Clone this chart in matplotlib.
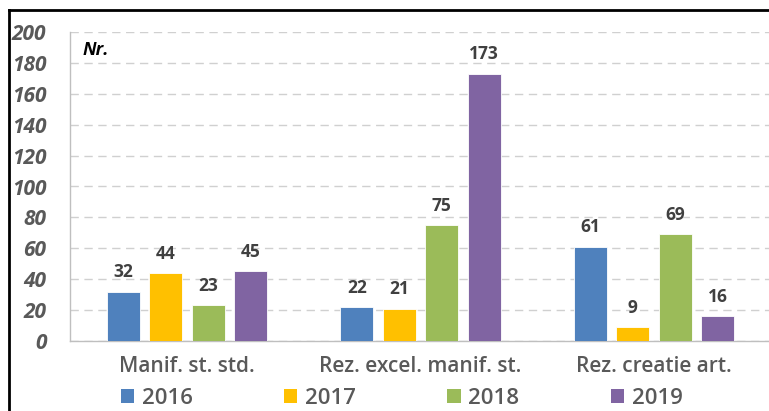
import matplotlib
matplotlib.use("Agg")
import matplotlib.pyplot as plt
from matplotlib.lines import Line2D
from matplotlib.patches import Patch
import numpy as np

categories = ["Manif. st. std.", "Rez. excel. manif. st.", "Rez. creatie art."]
years = ["2016", "2017", "2018", "2019"]
values_2016 = [32, 22, 61]
values_2017 = [44, 21, 9]
values_2018 = [23, 75, 69]
values_2019 = [45, 173, 16]
series = [values_2016, values_2017, values_2018, values_2019]
colors = ["#4F81BD", "#FFC000", "#9BBB59", "#8064A2"]
yticks = [0, 20, 40, 60, 80, 100, 120, 140, 160, 180, 200]

plt.rcParams['font.family'] = ['Open Sans', 'DejaVu Sans']

fig = plt.figure(figsize=(7.69, 4.11), dpi=100)
ax = fig.add_axes([70/769, 70/411, 701/769, 309/411])

x = np.arange(len(categories))
width = 0.141
step = 0.182
offsets = [-1.5*step, -0.5*step, 0.5*step, 1.5*step]
for vals, off, col in zip(series, offsets, colors):
    bars = ax.bar(x + off, vals, width, color=col, edgecolor='white', linewidth=0.6, zorder=3)
    for b, v in zip(bars, vals):
        ax.annotate(str(v), (b.get_x() + b.get_width()/2, v), xytext=(0, 7.5),
                    textcoords='offset points', ha='center', va='bottom',
                    fontsize=12.5, fontweight='bold', color='#404040')

ax.set_xlim(-0.5, 2.5)
ax.set_ylim(0, 200)
ax.set_yticks(yticks)
ax.set_yticklabels([str(t) for t in yticks], fontsize=15, fontstyle='italic',
                   fontweight='bold', color='#595959')
ax.tick_params(axis='y', length=0, pad=17)
ax.set_xticks(x)
ax.set_xticklabels(categories, fontsize=15, fontweight='semibold', color='#595959')
ax.tick_params(axis='x', length=0, pad=11)
ax.yaxis.grid(True, linestyle=(0, (6, 4)), color='#D0D0D0', linewidth=1, zorder=0)
for s in ['top', 'right']:
    ax.spines[s].set_visible(False)
for s in ['left', 'bottom']:
    ax.spines[s].set_color('#BFBFBF')
    ax.spines[s].set_linewidth(1)

ax.text(0.018, 0.97, "Nr.", transform=ax.transAxes, fontsize=13, fontweight='bold',
        fontstyle='italic', color='black', va='top', ha='left')

handles = [Patch(facecolor=c, edgecolor='none') for c in colors]
leg = fig.legend(handles, years, loc='center left', bbox_to_anchor=(121/769, 13/411),
                 ncol=4, frameon=False, prop={'size': 16, 'weight': 'semibold'},
                 handlelength=0.6, handleheight=0.6,
                 handletextpad=0.35, columnspacing=4.1, borderaxespad=0, borderpad=0)
for t in leg.get_texts():
    t.set_color('#595959')

fig.add_artist(Line2D([8.5/769, 8.5/769], [0, 1 - 10.5/411], transform=fig.transFigure,
                      color='black', linewidth=2))
fig.add_artist(Line2D([8.5/769, 1], [1 - 10.5/411, 1 - 10.5/411], transform=fig.transFigure,
                      color='black', linewidth=2))

fig.savefig("out.png", dpi=100)
